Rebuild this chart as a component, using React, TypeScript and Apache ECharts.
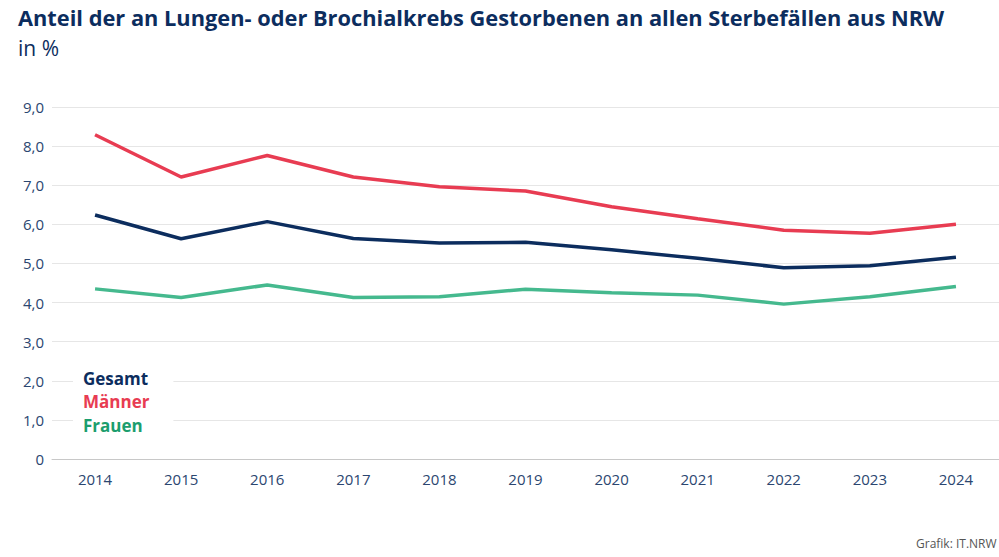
import React, { useEffect, useRef } from "react";
import * as echarts from "echarts";

const years = ["2014", "2015", "2016", "2017", "2018", "2019", "2020", "2021", "2022", "2023", "2024"];
const gesamt = [6.24, 5.63, 6.07, 5.64, 5.52, 5.54, 5.35, 5.13, 4.89, 4.94, 5.16];
const maenner = [8.29, 7.21, 7.76, 7.21, 6.96, 6.85, 6.45, 6.14, 5.85, 5.77, 6.0];
const frauen = [4.35, 4.13, 4.45, 4.13, 4.15, 4.34, 4.25, 4.19, 3.96, 4.15, 4.41];

const NAVY = "#0c2d5e";
const RED = "#e83c52";
const GREEN = "#45b98e";
const FONT = "Open Sans";

const App: React.FC = () => {
  const chartRef = useRef<HTMLDivElement>(null);

  useEffect(() => {
    document.body.style.margin = "0";
    if (!chartRef.current) return;
    const chart = echarts.init(chartRef.current, undefined, { renderer: "svg" });

    const line = (name: string, data: number[], color: string) => ({
      name,
      type: "line",
      data,
      symbol: "none",
      lineStyle: { color, width: 3.5 },
      itemStyle: { color },
    });

    chart.setOption({
      animation: false,
      textStyle: { fontFamily: FONT },
      title: {
        text: "Anteil der an Lungen- oder Brochialkrebs Gestorbenen an allen Sterbefällen aus NRW",
        subtext: "in %",
        left: 18,
        top: 2,
        padding: 0,
        itemGap: 2,
        textStyle: { fontFamily: FONT, fontSize: 21.8, fontWeight: "bold", color: NAVY, lineHeight: 30 },
        subtextStyle: { fontFamily: FONT, fontSize: 21, color: NAVY, lineHeight: 28 },
      },
      legend: {
        orient: "vertical",
        left: 73,
        top: 364,
        padding: [4, 24, 4, 5],
        backgroundColor: "#fff",
        icon: "none",
        itemWidth: 0,
        itemHeight: 20,
        itemGap: 3.5,
        selectedMode: false,
        textStyle: { fontFamily: FONT, fontSize: 17, fontWeight: "bold", lineHeight: 20 },
        data: [
          { name: "Gesamt", textStyle: { color: NAVY } },
          { name: "Männer", textStyle: { color: RED } },
          { name: "Frauen", textStyle: { color: "#1c9e6e" } },
        ],
      },
      grid: { left: 52, top: 107, width: 948, height: 352, containLabel: false },
      xAxis: {
        type: "category",
        data: years,
        boundaryGap: true,
        axisTick: { show: false },
        axisLine: { lineStyle: { color: "#c8c8c8", width: 1 } },
        axisLabel: { color: "#2b4670", fontSize: 15, margin: 12, fontFamily: FONT },
      },
      yAxis: {
        type: "value",
        min: 0,
        max: 9,
        interval: 1,
        axisLine: { show: false },
        axisTick: { show: false },
        splitLine: { lineStyle: { color: "#e6e6e6", width: 1 } },
        axisLabel: {
          color: "#2b4670",
          fontSize: 15,
          margin: 8,
          fontFamily: FONT,
          formatter: (v: number) => (v === 0 ? "0" : v.toFixed(1).replace(".", ",")),
        },
      },
      graphic: [
        {
          type: "text",
          left: 916,
          top: 537,
          style: { text: "Grafik: IT.NRW", fontFamily: FONT, fontSize: 12, fill: "#555" },
        },
      ],
      series: [line("Gesamt", gesamt, NAVY), line("Männer", maenner, RED), line("Frauen", frauen, GREEN)],
    });

    return () => {
      chart.dispose();
    };
  }, []);

  return <div ref={chartRef} style={{ width: 999, height: 557 }} />;
};

export default App;
